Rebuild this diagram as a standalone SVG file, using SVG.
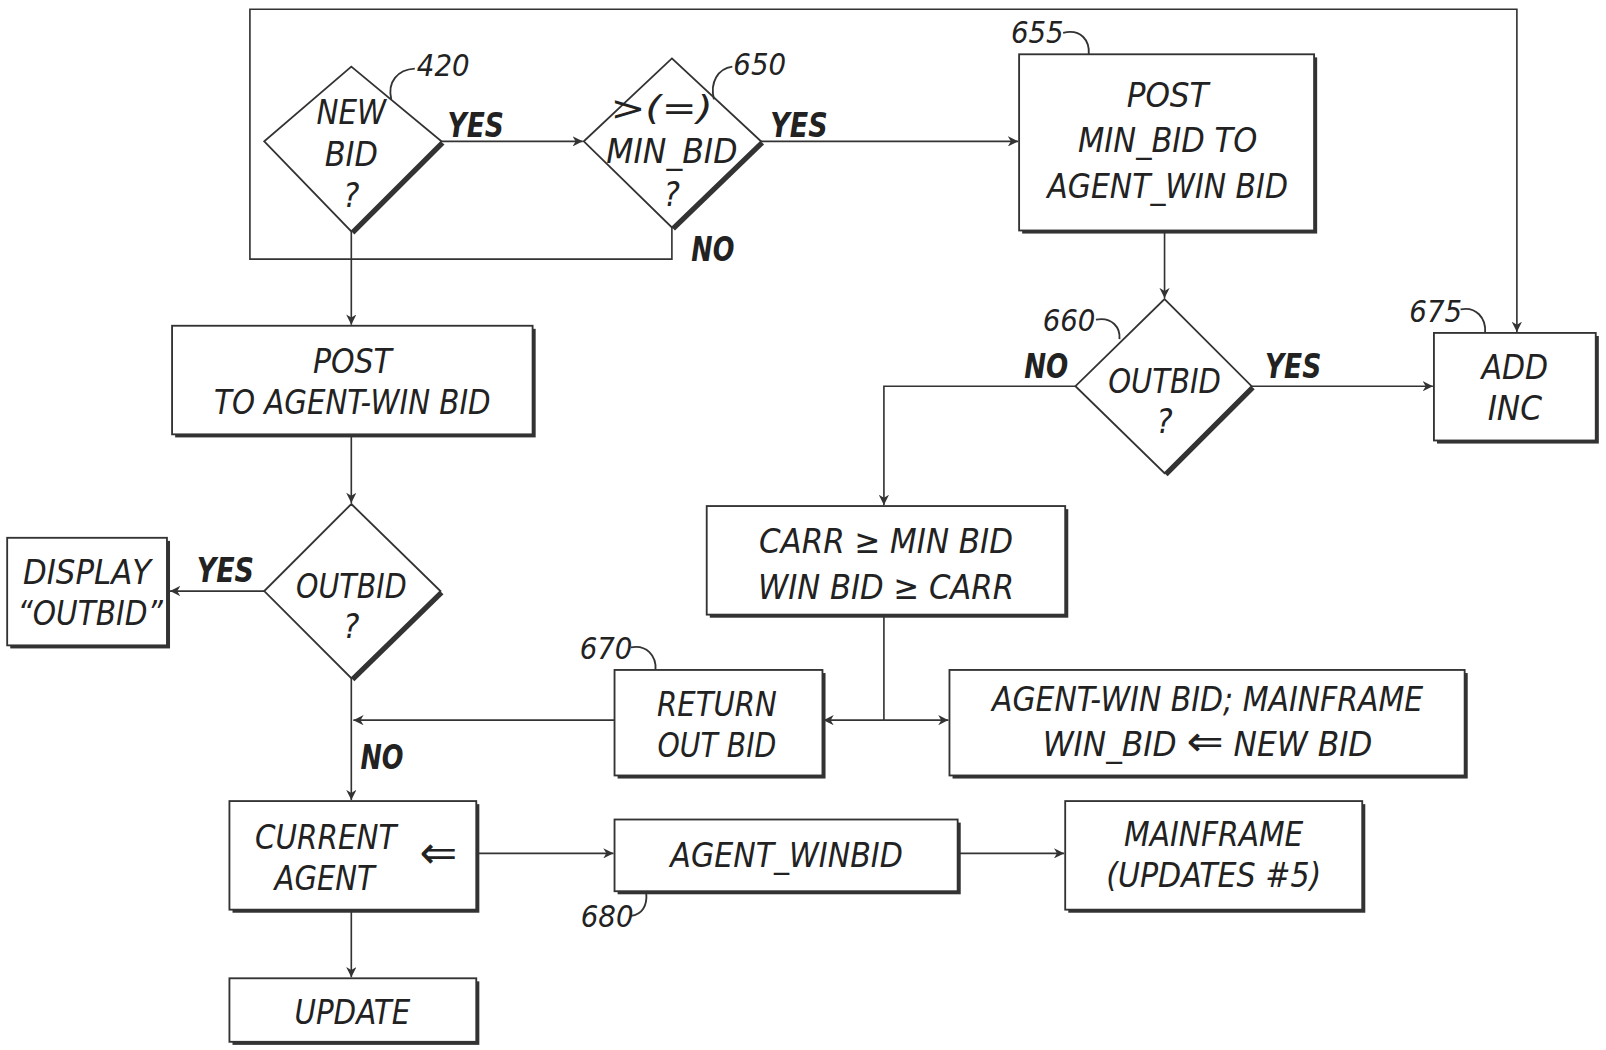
<svg xmlns="http://www.w3.org/2000/svg" width="1606" height="1050" viewBox="0 0 1606 1050">
<style>
.t{font-family:"Liberation Sans Narrow","DejaVu Sans Condensed","Liberation Sans",sans-serif;font-style:italic;font-size:33px;fill:#222;text-anchor:middle}
.l{font-family:"Liberation Sans Narrow","DejaVu Sans Condensed","Liberation Sans",sans-serif;font-style:italic;font-size:30px;fill:#222}
.y{font-family:"Liberation Sans Narrow","DejaVu Sans Condensed","Liberation Sans",sans-serif;font-style:italic;font-weight:bold;font-size:33px;fill:#222}
.ar{font-family:"DejaVu Sans",sans-serif;font-size:44px;fill:#222;text-anchor:middle}
.box{fill:#fff;stroke:#333;stroke-width:1.8}
.sh{fill:#333}
.c{fill:none;stroke:#333;stroke-width:1.6}
.ld{fill:none;stroke:#333;stroke-width:1.8}
</style>
<defs>
<marker id="a" viewBox="0 0 10 10" refX="10" refY="5" markerWidth="10" markerHeight="10" markerUnits="userSpaceOnUse" orient="auto">
<path d="M0,0 L10,5 L0,10 L3,5 Z" fill="#333"/>
</marker>
</defs>
<rect width="1606" height="1050" fill="#fff"/>
<g transform="scale(1.02423,1.02439)">
<g id="connectors">
<polyline class="c" points="656,222 656,253 244,253 244,9 1481,9 1481,324" marker-end="url(#a)"/>
<line class="c" x1="431" y1="138" x2="569" y2="138" marker-end="url(#a)"/>
<line class="c" x1="743" y1="138" x2="994" y2="138" marker-end="url(#a)"/>
<line class="c" x1="1137" y1="225" x2="1137" y2="291" marker-end="url(#a)"/>
<line class="c" x1="1222" y1="377" x2="1399" y2="377" marker-end="url(#a)"/>
<polyline class="c" points="1050,377 863,377 863,493" marker-end="url(#a)"/>
<line class="c" x1="863" y1="600" x2="863" y2="703"/>
<line class="c" x1="863" y1="703" x2="804" y2="703" marker-end="url(#a)"/>
<line class="c" x1="863" y1="703" x2="926" y2="703" marker-end="url(#a)"/>
<line class="c" x1="600" y1="703" x2="345" y2="703" marker-end="url(#a)"/>
<line class="c" x1="343" y1="226" x2="343" y2="317" marker-end="url(#a)"/>
<line class="c" x1="343" y1="424" x2="343" y2="491" marker-end="url(#a)"/>
<line class="c" x1="258" y1="577" x2="166" y2="577" marker-end="url(#a)"/>
<line class="c" x1="343" y1="662" x2="343" y2="781" marker-end="url(#a)"/>
<line class="c" x1="465" y1="833" x2="599" y2="833" marker-end="url(#a)"/>
<line class="c" x1="935" y1="833" x2="1039" y2="833" marker-end="url(#a)"/>
<line class="c" x1="343" y1="888" x2="343" y2="954" marker-end="url(#a)"/>
<text class="y" x="437" y="134" textLength="55" lengthAdjust="spacingAndGlyphs">YES</text>
<text class="y" x="752" y="134" textLength="56" lengthAdjust="spacingAndGlyphs">YES</text>
<text class="y" x="675" y="255" textLength="42" lengthAdjust="spacingAndGlyphs">NO</text>
<text class="y" x="1000" y="369" textLength="43" lengthAdjust="spacingAndGlyphs">NO</text>
<text class="y" x="1235" y="369" textLength="55" lengthAdjust="spacingAndGlyphs">YES</text>
<text class="y" x="192" y="568" textLength="56" lengthAdjust="spacingAndGlyphs">YES</text>
<text class="y" x="352" y="751" textLength="42" lengthAdjust="spacingAndGlyphs">NO</text>
</g>
<g id="n420">
<polygon class="sh" points="343,68 434,141 346,229 261,141"/>
<polygon class="box" points="343,65 431,138 343,226 258,138"/>
<text class="t" x="343" y="121" textLength="68" lengthAdjust="spacingAndGlyphs">NEW</text>
<text class="t" x="343" y="162" textLength="52" lengthAdjust="spacingAndGlyphs">BID</text>
<text class="t" x="343" y="202">?</text>
<path class="ld" d="M382,97 C378,80 388,68 405,67"/>
<text class="l" x="407" y="74">420</text>
</g>
<g id="n650">
<polygon class="sh" points="656,60 746,141 659,225 573,141"/>
<polygon class="box" points="656,57 743,138 656,222 570,138"/>
<text class="t" x="646" y="117" textLength="100" lengthAdjust="spacingAndGlyphs">&gt;(=)</text>
<text class="t" x="656" y="159" textLength="128" lengthAdjust="spacingAndGlyphs">MIN_BID</text>
<text class="t" x="656" y="201">?</text>
<path class="ld" d="M697,97 C693,80 701,67 715,65"/>
<text class="l" x="716" y="73">650</text>
</g>
<g id="n655">
<rect class="sh" x="998" y="56" width="288" height="172"/>
<rect class="box" x="995" y="53" width="288" height="172"/>
<text class="t" x="1140" y="104" textLength="80" lengthAdjust="spacingAndGlyphs">POST</text>
<text class="t" x="1140" y="148" textLength="175" lengthAdjust="spacingAndGlyphs">MIN_BID TO</text>
<text class="t" x="1140" y="193" textLength="235" lengthAdjust="spacingAndGlyphs">AGENT_WIN BID</text>
<path class="ld" d="M1038,32 C1056,28 1064,40 1063,53"/>
<text class="l" x="987" y="42">655</text>
</g>
<g id="n660">
<polygon class="sh" points="1137,295 1225,380 1140,465 1053,380"/>
<polygon class="box" points="1137,292 1222,377 1137,462 1050,377"/>
<text class="t" x="1137" y="384" textLength="110" lengthAdjust="spacingAndGlyphs">OUTBID</text>
<text class="t" x="1137" y="423">?</text>
<path class="ld" d="M1070,312 C1086,309 1094,320 1093,331"/>
<text class="l" x="1018" y="323">660</text>
</g>
<g id="n675">
<rect class="sh" x="1403" y="328" width="158" height="105"/>
<rect class="box" x="1400" y="325" width="158" height="105"/>
<text class="t" x="1479" y="370" textLength="65" lengthAdjust="spacingAndGlyphs">ADD</text>
<text class="t" x="1479" y="410" textLength="53" lengthAdjust="spacingAndGlyphs">INC</text>
<path class="ld" d="M1426,302 C1441,299 1451,310 1450,325"/>
<text class="l" x="1376" y="314">675</text>
</g>
<g id="carr">
<rect class="sh" x="693" y="497" width="350" height="106"/>
<rect class="box" x="690" y="494" width="350" height="106"/>
<text class="t" x="865" y="540" textLength="248" lengthAdjust="spacingAndGlyphs">CARR ≥ MIN BID</text>
<text class="t" x="865" y="585" textLength="250" lengthAdjust="spacingAndGlyphs">WIN BID ≥ CARR</text>
</g>
<g id="n670">
<rect class="sh" x="603" y="657" width="203" height="103"/>
<rect class="box" x="600" y="654" width="203" height="103"/>
<text class="t" x="700" y="699" textLength="117" lengthAdjust="spacingAndGlyphs">RETURN</text>
<text class="t" x="700" y="739" textLength="116" lengthAdjust="spacingAndGlyphs">OUT BID</text>
<path class="ld" d="M616,632 C631,629 641,640 640,654"/>
<text class="l" x="566" y="643">670</text>
</g>
<g id="agentwin">
<rect class="sh" x="930" y="657" width="503" height="103"/>
<rect class="box" x="927" y="654" width="503" height="103"/>
<text class="t" x="1179" y="694" textLength="421" lengthAdjust="spacingAndGlyphs">AGENT-WIN BID; MAINFRAME</text>
<text class="t" x="1179" y="738" textLength="322" lengthAdjust="spacingAndGlyphs">WIN_BID <tspan font-family="DejaVu Sans" font-style="normal" font-size="42">⇐</tspan> NEW BID</text>
</g>
<g id="postleft">
<rect class="sh" x="171" y="321" width="352" height="106"/>
<rect class="box" x="168" y="318" width="352" height="106"/>
<text class="t" x="344" y="364" textLength="77" lengthAdjust="spacingAndGlyphs">POST</text>
<text class="t" x="344" y="404" textLength="270" lengthAdjust="spacingAndGlyphs">TO AGENT-WIN BID</text>
</g>
<g id="outbidleft">
<polygon class="sh" points="343,495 433,580 346,665 261,580"/>
<polygon class="box" points="343,492 430,577 343,662 258,577"/>
<text class="t" x="343" y="584" textLength="108" lengthAdjust="spacingAndGlyphs">OUTBID</text>
<text class="t" x="343" y="623">?</text>
</g>
<g id="display">
<rect class="sh" x="10" y="528" width="156" height="105"/>
<rect class="box" x="7" y="525" width="156" height="105"/>
<text class="t" x="85" y="570" textLength="125" lengthAdjust="spacingAndGlyphs">DISPLAY</text>
<text class="t" x="88" y="610" textLength="142" lengthAdjust="spacingAndGlyphs">“OUTBID”</text>
</g>
<g id="current">
<rect class="sh" x="227" y="785" width="241" height="106"/>
<rect class="box" x="224" y="782" width="241" height="106"/>
<text class="t" x="318" y="829" textLength="138" lengthAdjust="spacingAndGlyphs">CURRENT</text>
<text class="t" x="317" y="869" textLength="98" lengthAdjust="spacingAndGlyphs">AGENT</text>
<text class="ar" x="428" y="847">⇐</text>
</g>
<g id="n680">
<rect class="sh" x="603" y="803" width="335" height="70"/>
<rect class="box" x="600" y="800" width="335" height="70"/>
<text class="t" x="768" y="846" textLength="227" lengthAdjust="spacingAndGlyphs">AGENT_WINBID</text>
<path class="ld" d="M616,894 C627,893 632,884 631,872"/>
<text class="l" x="567" y="905">680</text>
</g>
<g id="mainframe">
<rect class="sh" x="1043" y="785" width="290" height="106"/>
<rect class="box" x="1040" y="782" width="290" height="106"/>
<text class="t" x="1185" y="826" textLength="175" lengthAdjust="spacingAndGlyphs">MAINFRAME</text>
<text class="t" x="1185" y="866" textLength="210" lengthAdjust="spacingAndGlyphs">(UPDATES #5)</text>
</g>
<g id="update">
<rect class="sh" x="227" y="958" width="241" height="62"/>
<rect class="box" x="224" y="955" width="241" height="62"/>
<text class="t" x="344" y="1000" textLength="113" lengthAdjust="spacingAndGlyphs">UPDATE</text>
</g>
</g>
</svg>
